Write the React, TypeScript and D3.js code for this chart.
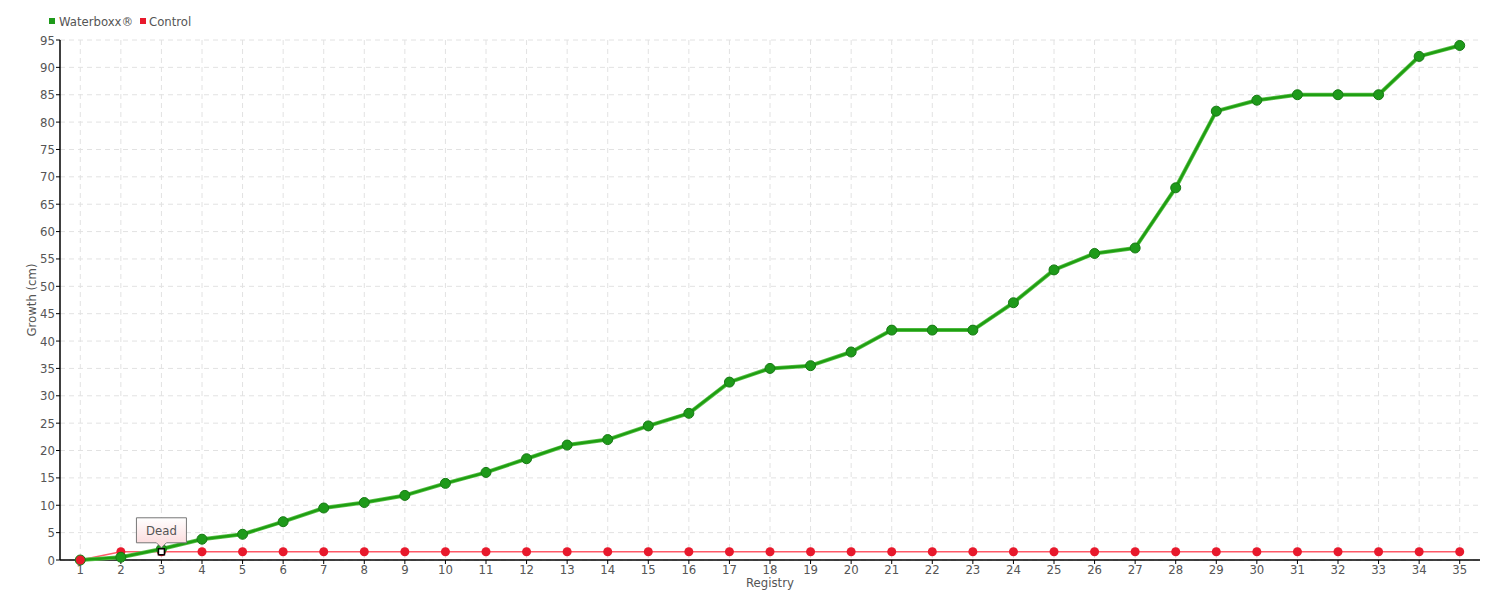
import React from "react";
import * as d3 from "d3";

const registries: number[] = Array.from({ length: 35 }, (_, i) => i + 1);
const waterboxx: number[] = [0, 0.5, 2, 3.8, 4.7, 7, 9.5, 10.5, 11.8, 14, 16, 18.5, 21, 22, 24.5, 26.8, 32.5, 35, 35.5, 38, 42, 42, 42, 47, 53, 56, 57, 68, 82, 84, 85, 85, 85, 92, 94];
const control: number[] = [0, 1.5, 1.5, 1.5, 1.5, 1.5, 1.5, 1.5, 1.5, 1.5, 1.5, 1.5, 1.5, 1.5, 1.5, 1.5, 1.5, 1.5, 1.5, 1.5, 1.5, 1.5, 1.5, 1.5, 1.5, 1.5, 1.5, 1.5, 1.5, 1.5, 1.5, 1.5, 1.5, 1.5, 1.5];
const yTicks: number[] = d3.range(0, 96, 5);
const deadIndex = 2;
const deadLabel = "Dead";

const W = 1500, H = 600;
const M = { left: 60, right: 20, top: 40, bottom: 40 };
const FONT = "'DejaVu Sans Condensed', 'Liberation Sans Narrow', sans-serif";
const TXT = "#555";
const FS = 13;

export default function App() {
  const x = d3.scaleBand<number>().domain(registries).range([M.left, W - M.right]);
  const cx = (r: number) => (x(r) as number) + x.bandwidth() / 2;
  const y = d3.scaleLinear().domain([0, 95]).range([H - M.bottom, M.top]);
  const lineG = d3.line<number>().x((_, i) => cx(registries[i])).y((d) => y(d));
  const x0 = M.left, x1 = W - M.right, y0 = H - M.bottom;

  const dx = cx(registries[deadIndex]);
  const dy = y(control[deadIndex]);

  return (
    <svg width={W} height={H} style={{ position: "absolute", left: 0, top: 0, fontFamily: FONT }}>
      <defs>
        <linearGradient id="tipg" x1="0" y1="0" x2="0" y2="1">
          <stop offset="0%" stopColor="#ffffff" />
          <stop offset="100%" stopColor="#fbd6d8" />
        </linearGradient>
      </defs>
      {/* grid */}
      {yTicks.map((t) => (
        <line key={"gy" + t} x1={x0} x2={x1} y1={y(t)} y2={y(t)} stroke="#e2e2e2" strokeDasharray="5,4" />
      ))}
      {registries.map((r) => (
        <line key={"gx" + r} x1={cx(r)} x2={cx(r)} y1={M.top} y2={y0} stroke="#e2e2e2" strokeDasharray="5,4" />
      ))}
      {/* axes */}
      <line x1={x0} x2={x0} y1={M.top} y2={y0} stroke="#000" strokeWidth={1.5} />
      <line x1={x0} x2={x1} y1={y0} y2={y0} stroke="#000" strokeWidth={1.5} />
      {yTicks.map((t) => (
        <g key={"ty" + t}>
          <line x1={x0 - 4} x2={x0} y1={y(t)} y2={y(t)} stroke="#000" />
          <text x={x0 - 5} y={y(t)} dy="0.35em" textAnchor="end" fontSize={FS} fill={TXT}>{t}</text>
        </g>
      ))}
      {registries.map((r) => (
        <g key={"tx" + r}>
          <line x1={cx(r)} x2={cx(r)} y1={y0} y2={y0 + 4} stroke="#000" />
          <text x={cx(r)} y={y0 + 14} textAnchor="middle" fontSize={FS} fill={TXT}>{r}</text>
        </g>
      ))}
      <text x={(x0 + x1) / 2} y={587} textAnchor="middle" fontSize={FS} fill={TXT}>Registry</text>
      <text transform={`translate(36,${(M.top + y0) / 2}) rotate(-90)`} textAnchor="middle" fontSize={FS} fill={TXT}>Growth (cm)</text>
      {/* control */}
      <path d={lineG(control) || ""} fill="none" stroke="#ff5a68" strokeWidth={1.5} />
      {control.map((v, i) => (
        <circle key={"c" + i} cx={cx(registries[i])} cy={y(v)} r={4.5} fill="#e8192c" />
      ))}
      {/* waterboxx */}
      <path d={lineG(waterboxx) || ""} fill="none" stroke="#5cc24c" strokeWidth={4} strokeLinejoin="round" />
      <path d={lineG(waterboxx) || ""} fill="none" stroke="#1f9e12" strokeWidth={2.5} strokeLinejoin="round" />
      {waterboxx.map((v, i) => (
        <circle key={"w" + i} cx={cx(registries[i])} cy={y(v)} r={5} fill="#1e9a1a" stroke="#177a14" strokeWidth={1} />
      ))}
      {/* first control point on top */}
      <circle cx={cx(registries[0])} cy={y(control[0])} r={4.5} fill="#e8192c" />
      {/* dead marker */}
      <rect x={dx - 3} y={dy - 3} width={6} height={6} fill="#fff" stroke="#000" strokeWidth={1.5} />
      <g>
        <path
          d={`M${dx - 25},${dy - 34} H${dx + 25} V${dy - 9} H${dx + 5} L${dx},${dy - 4} L${dx - 5},${dy - 9} H${dx - 25} Z`}
          fill="url(#tipg)" stroke="#777" strokeWidth={1}
        />
        <text x={dx} y={dy - 17} textAnchor="middle" fontSize={FS} fill={TXT}>{deadLabel}</text>
      </g>
      {/* legend */}
      <rect x={49} y={18} width={6} height={6} fill="#1e9a1a" />
      <text x={59} y={26} fontSize={FS} fill={TXT}>Waterboxx®</text>
      <rect x={140} y={18} width={6} height={6} fill="#e8192c" />
      <text x={149} y={26} fontSize={FS} fill={TXT}>Control</text>
    </svg>
  );
}
